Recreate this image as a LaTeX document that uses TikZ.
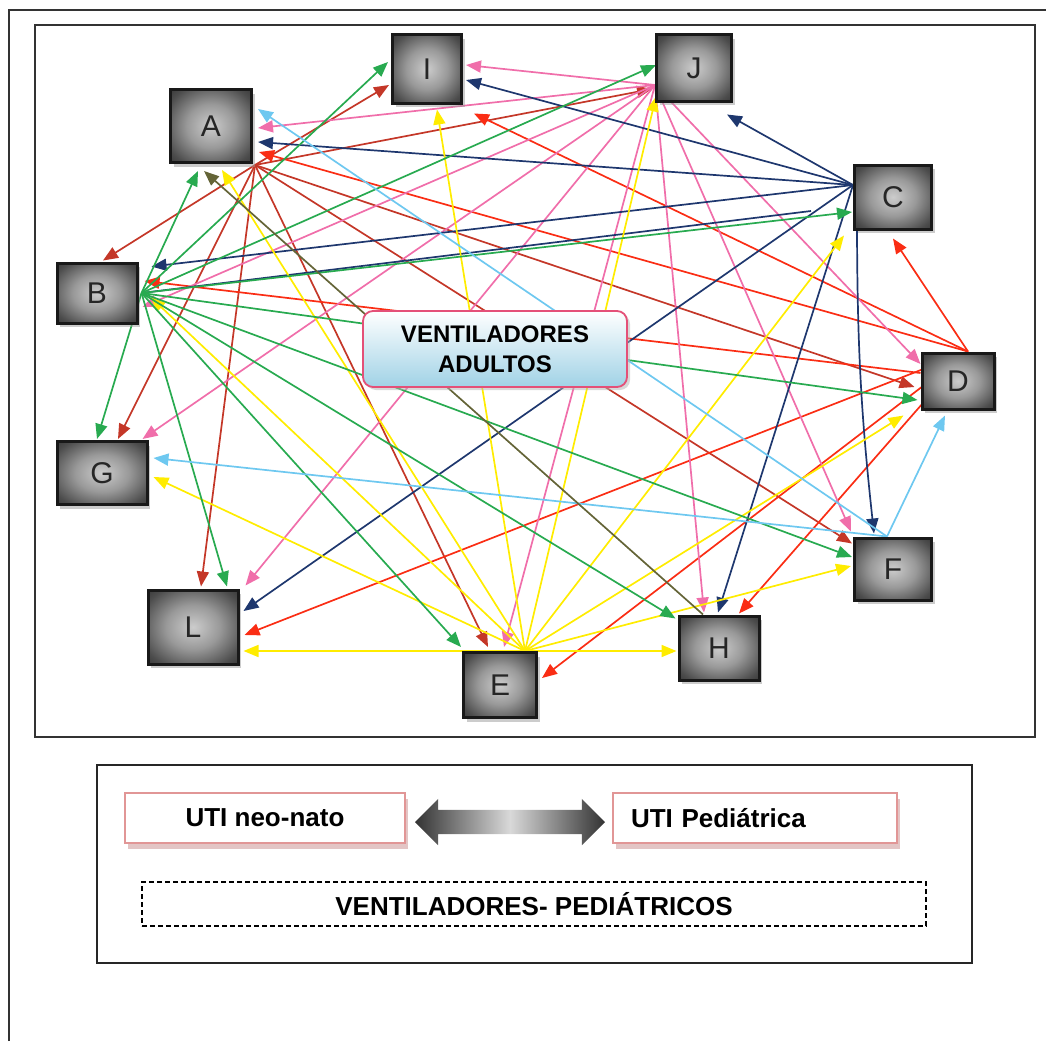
\documentclass[tikz,border=0pt]{standalone}
\usepackage{fontspec}
\setmainfont{Liberation Sans}
\usetikzlibrary{shapes,shapes.arrows,arrows.meta,calc,shadows,backgrounds,positioning}

% line colours, one per unit that sends
\definecolor{aline}{RGB}{196,55,40}
\definecolor{dline}{RGB}{250,45,20}
\definecolor{jline}{RGB}{240,110,170}
\definecolor{cline}{RGB}{30,55,110}
\definecolor{eline}{RGB}{255,236,0}
\definecolor{bline}{RGB}{40,170,80}
\definecolor{fline}{RGB}{110,200,240}
\definecolor{hline}{RGB}{100,100,55}
\definecolor{adultborder}{RGB}{228,80,120}
\definecolor{adultfill}{RGB}{160,210,230}
\definecolor{legborder}{RGB}{225,150,150}
\definecolor{legshadow}{RGB}{200,140,140}

% grey button look of the units
\pgfdeclareradialshading{bevel}{\pgfpoint{0bp}{0bp}}{color(0bp)=(black!20); color(15bp)=(black!40);
    color(30bp)=(black!70); color(44bp)=(black!88); color(75bp)=(black!92)}

\tikzset{
    unit/.style={rectangle, draw=black!90, line width=3pt, shading=bevel,
        text=black!85, font=\fontsize{30}{30}\selectfont,
        drop shadow={shadow xshift=3pt, shadow yshift=-4pt, fill=black!40}},
    adult/.style={rectangle, rounded corners=10pt, draw=adultborder, line width=1.8pt,
        top color=white, bottom color=adultfill, minimum width=264, minimum height=76, align=center,
        font=\bfseries\fontsize{24}{30}\selectfont,
        drop shadow={shadow xshift=3pt, shadow yshift=-3pt, fill=black!30}},
    link/.style={line width=1.7pt, -{Triangle[length=15pt,width=12pt]}},
    legbox/.style={rectangle, draw=legborder, line width=1.2pt, fill=white, inner sep=0pt,
        minimum height=50, font=\bfseries\fontsize{26}{26}\selectfont,
        drop shadow={shadow xshift=3pt, shadow yshift=-6pt, fill=legshadow}}
}

\begin{document}
\begin{tikzpicture}[x=1pt, y=-1pt]
    \useasboundingbox (0,0) rectangle (1046,1041);

    %-----Frames-----
    \draw[line width=2pt, black!80] (9,1041) -- (9,10) -- (1046,10);
    \draw[line width=1.5pt, black!80] (35,25) rectangle (1035,737);

    %-----Units-----
    \node[unit, minimum width=81, minimum height=73] (a) at (211,126) {A};
    \node[unit, minimum width=80, minimum height=60] (b) at (97,293) {B};
    \node[unit, minimum width=77, minimum height=64] (c) at (893,197) {C};
    \node[unit, minimum width=72, minimum height=56] (d) at (958,381) {D};
    \node[unit, minimum width=73, minimum height=65] (e) at (500,685) {E};
    \node[unit, minimum width=77, minimum height=62] (f) at (893,569) {F};
    \node[unit, minimum width=90, minimum height=63] (g) at (102,473) {G};
    \node[unit, minimum width=80, minimum height=64] (h) at (719,648) {H};
    \node[unit, minimum width=69, minimum height=68] (i) at (427,69) {I};
    \node[unit, minimum width=75, minimum height=66] (j) at (694,68) {J};
    \node[unit, minimum width=90, minimum height=74] (l) at (193,627) {L};

    % Central node
    \node[adult] (adult) at (495,349) {VENTILADORES\\ADULTOS};

    % points the lines leave from
    \coordinate (aout) at ($(a.south east)+(2,1)$);
    \coordinate (bout) at ($(b.east)+(3,0)$);
    \coordinate (cout) at ($(c.west)+(0,-12)$);
    \coordinate (dout) at ($(d.north)+(10,0)$);
    \coordinate (eout) at ($(e.north)+(25,0)$);
    \coordinate (fout) at ($(f.north)+(-6,0)$);
    \coordinate (hout) at ($(h.north)+(-16,0)$);
    \coordinate (jout) at ($(j.west)+(0,17)$);
    \coordinate (cstub) at ($(c.west)+(-42,14)$);

    %-----Links-----
    \begin{scope}[on background layer]
        % from A
        \draw[link, aline] (aout) -- ($(b.north)+(6,-1)$);
        \draw[link, aline] (aout) -- ($(i.west)+(-2,16)$);
        \draw[link, aline] (aout) -- ($(j.west)+(-3,21)$);
        \draw[link, aline] (aout) -- ($(g.north)+(16,-1)$);
        \draw[link, aline] (aout) -- ($(l.north)+(8,-2)$);
        \draw[link, aline] (aout) -- ($(e.north)+(-12,-4)$);
        \draw[link, aline] (aout) -- ($(d.west)+(-6,6)$);
        \draw[link, aline] (aout) -- ($(f.north west)+(-1,7)$);

        % from D
        \draw[link, dline] (dout) -- ($(c.south)+(0,8)$);
        \draw[link, dline] (dout) -- ($(i.south east)+(11,9)$);
        \draw[link, dline] (dout) -- ($(a.east)+(6,26)$);
        \draw[link, dline] ($(d.west)+(0,-8)$) -- ($(b.east)+(6,-12)$);
        \draw[link, dline] (dout) -- ($(l.east)+(5,8)$);
        \draw[link, dline] (dout) -- ($(e.east)+(4,-7)$);
        \draw[link, dline] (dout) -- ($(h.north)+(20,-1)$);

        % from J
        \draw[link, jline] (jout) -- ($(i.east)+(3,-4)$);
        \draw[link, jline] (jout) -- ($(a.east)+(5,2)$);
        \draw[link, jline] (jout) -- ($(b.east)+(4,14)$);
        \draw[link, jline] (jout) -- ($(g.north east)+(-6,-1)$);
        \draw[link, jline] (jout) -- ($(l.north east)+(6,-3)$);
        \draw[link, jline] (jout) -- ($(e.north)+(4,-4)$);
        \draw[link, jline] (jout) -- ($(h.north)+(-15,-2)$);
        \draw[link, jline] (jout) -- ($(f.north west)+(-2,-5)$);
        \draw[link, jline] (jout) -- ($(d.west)+(0,-17)$);

        % from C
        \draw[link, cline] (cout) -- ($(j.south east)+(-6,12)$);
        \draw[link, cline] (cout) -- ($(i.east)+(3,11)$);
        \draw[link, cline] (cout) -- ($(a.east)+(5,16)$);
        \draw[link, cline] (cout) -- ($(b.north east)+(13,5)$);
        \draw[link, cline] (cout) -- ($(l.east)+(4,-16)$);
        \draw[link, cline] (cout) -- ($(h.north)+(-1,-2)$);
        \draw[link, cline] ($(c.south west)+(4,0)$) to[bend right=3] ($(f.north)+(-19,-3)$);
        \draw[line width=1.7pt, cline] (bout) -- (cstub);

        % from E
        \draw[link, eline] (eout) -- ($(l.east)+(4,24)$);
        \draw[link, eline] (eout) -- ($(h.west)+(-1,3)$);
        \draw[link, eline] (eout) -- ($(f.west)+(-2,-3)$);
        \draw[link, eline] (eout) -- ($(d.south west)+(-17,5)$);
        \draw[link, eline] (eout) -- ($(c.south west)+(-9,5)$);
        \draw[link, eline] (eout) -- ($(j.south west)+(1,-6)$);
        \draw[link, eline] (eout) -- ($(i.south)+(10,5)$);
        \draw[link, eline] (eout) -- ($(a.south)+(11,6)$);
        \draw[link, eline] (eout) -- ($(b.east)+(12,4)$);
        \draw[link, eline] (eout) -- ($(g.east)+(5,4)$);

        % from B
        \draw[link, bline] (bout) -- ($(a.south)+(-13,7)$);
        \draw[link, bline] (bout) -- ($(i.west)+(-3,-7)$);
        \draw[link, bline] (bout) -- ($(j.west)+(1,-3)$);
        \draw[link, bline] (bout) -- ($(c.west)+(-1,15)$);
        \draw[link, bline] (bout) -- ($(d.west)+(-3,19)$);
        \draw[link, bline] (bout) -- ($(f.west)+(-1,-12)$);
        \draw[link, bline] (bout) -- ($(h.north west)+(-2,4)$);
        \draw[link, bline] (bout) -- ($(e.north west)+(-1,-4)$);
        \draw[link, bline] (bout) -- ($(l.north)+(34,-2)$);
        \draw[link, bline] (bout) -- ($(g.north)+(-5,-1)$);

        % from F
        \draw[link, fline] (fout) -- ($(d.south)+(-13,5)$);
        \draw[link, fline] (fout) -- ($(g.east)+(5,-15)$);
        \draw[link, fline] (fout) -- ($(a.east)+(5,-17)$);

        % from H
        \draw[link, hline] (hout) -- ($(a.south)+(-7,7)$);
    \end{scope}

    %-----Legend-----
    \draw[line width=1.5pt, black!85] (97,765) rectangle (972,963);

    % UTI neo-nato
    \node[legbox, minimum width=280, align=center] (neo) at (265,818) {UTI neo-nato};
    % UTI Pediatrica
    \node[legbox, text width=248, inner xsep=18pt, align=left] (ped) at (755,818) {UTI Pediátrica};
    % arrow between them
    \node[double arrow, minimum height=190, inner xsep=0pt, inner ysep=12pt, double arrow head extend=11pt,
        left color=black!80, right color=black!80, middle color=black!15] (swap) at (510,822) {};

    % Pediatric ventilators
    \node[draw, dashed, dash pattern=on 5pt off 3pt, line width=1.3pt, minimum width=784, minimum height=44,
        font=\bfseries\fontsize{26}{26}\selectfont] (vped) at (534,904) {VENTILADORES- PEDIÁTRICOS};

\end{tikzpicture}
\end{document}
